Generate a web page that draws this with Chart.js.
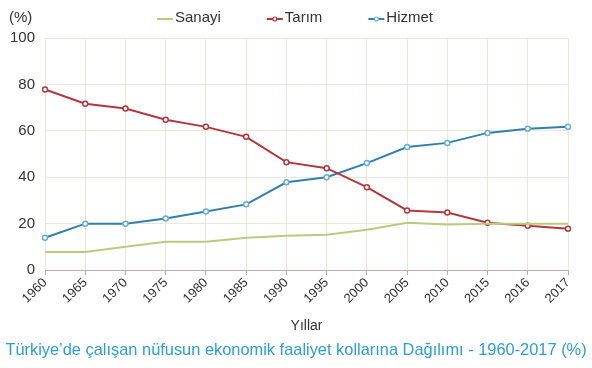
<!DOCTYPE html>
<html>
<head>
<meta charset="utf-8">
<script src="https://cdn.jsdelivr.net/npm/chart.js@4.4.0/dist/chart.umd.min.js"></script>
<style>
  body { margin: 0; background: #fff; }
  #wrap { width: 592px; height: 368px; }
</style>
</head>
<body>
<div id="wrap"><canvas id="Chart"></canvas></div>
<script>
var years = ['1960', '1965', '1970', '1975', '1980', '1985', '1990', '1995', '2000', '2005', '2010', '2015', '2016', '2017'];
var sanayi = [7.8, 7.8, 10, 12.2, 12.2, 13.9, 14.8, 15.2, 17.4, 20.4, 19.6, 20, 20, 20];
var tarim = [77.8, 71.7, 69.6, 64.8, 61.7, 57.4, 46.5, 43.9, 35.7, 25.7, 24.8, 20.4, 19.1, 17.8];
var hizmet = [13.9, 20, 20, 22.2, 25.2, 28.3, 37.8, 40, 46.1, 53, 54.8, 59.1, 60.9, 61.7];
var yTicks = [0, 20, 40, 60, 80, 100];

var FONT = '"Liberation Sans", Arial, sans-serif';
Chart.defaults.font.family = FONT;
Chart.defaults.color = '#333';

// legend on one row above the plot + "(%)" label
var topLabels = {
    id: 'topLabels',
    afterLayout: function(chart) {
        // center the bottom title on the whole canvas, not the padded box
        if (chart.titleBlock) {
            chart.titleBlock.left = 0;
            chart.titleBlock.right = chart.width;
            chart.titleBlock.width = chart.width;
        }
    },
    afterDraw: function(chart) {
        var c = chart.ctx;
        var y = chart.scales.y.top - 20;
        c.save();
        c.font = '15px ' + FONT;
        c.textBaseline = 'middle';
        c.fillStyle = '#333';
        c.fillText('(%)', 9, y);
        var sets = chart.data.datasets;
        var lineW = 16, gap = 2, space = 46;
        var total = 0;
        sets.forEach(function(ds, i) {
            total += lineW + gap + c.measureText(ds.label).width;
            if (i < sets.length - 1) total += space;
        });
        var x = 295 - total / 2;
        sets.forEach(function(ds) {
            c.strokeStyle = ds.borderColor;
            c.lineWidth = 2;
            c.beginPath();
            c.moveTo(x, y + 1);
            c.lineTo(x + lineW, y + 1);
            c.stroke();
            if (ds.pointRadius > 0) {
                c.fillStyle = '#fff';
                c.strokeStyle = ds.pointBorderColor;
                c.lineWidth = 1.2;
                c.beginPath();
                c.arc(x + lineW / 2, y + 1, 2, 0, Math.PI * 2);
                c.fill();
                c.stroke();
            }
            c.fillStyle = '#333';
            c.fillText(ds.label, x + lineW + gap, y);
            x += lineW + gap + c.measureText(ds.label).width + space;
        });
        c.restore();
    }
};

var ctx = document.getElementById('Chart').getContext('2d');
var myChart = new Chart(ctx, {
    type: 'line',
    data: {
        labels: years,
        datasets: [{
            label: 'Sanayi',
            data: sanayi,
            borderColor: '#b8cc80',
            backgroundColor: '#b8cc80',
            borderWidth: 2,
            pointRadius: 0
        }, {
            label: 'Tarım',
            data: tarim,
            borderColor: '#b2383e',
            backgroundColor: '#b2383e',
            borderWidth: 2,
            pointRadius: 2.5,
            pointBackgroundColor: '#fff',
            pointBorderColor: '#b2383e',
            pointBorderWidth: 1.5
        }, {
            label: 'Hizmet',
            data: hizmet,
            borderColor: '#317fae',
            backgroundColor: '#317fae',
            borderWidth: 2,
            pointRadius: 2.5,
            pointBackgroundColor: '#fff',
            pointBorderColor: '#6aaed6',
            pointBorderWidth: 1.5
        }]
    },
    options: {
        responsive: true,
        maintainAspectRatio: false,
        animation: false,
        layout: { padding: { left: 0, right: 24, top: 38, bottom: 8 } },
        plugins: {
            legend: { display: false },
            title: {
                display: true,
                position: 'bottom',
                text: 'Türkiye’de çalışan nüfusun ekonomik faaliyet kollarına Dağılımı - 1960-2017 (%)',
                color: '#2a9fd6',
                font: { size: 16.4, weight: 'normal' },
                padding: { top: 2, bottom: 0 }
            },
            tooltip: { enabled: false }
        },
        scales: {
            x: {
                offset: false,
                grid: { color: '#efe6da', tickLength: 5, tickColor: '#c9a8a8' },
                border: { color: '#c9a8a8' },
                ticks: { maxRotation: 45, minRotation: 45, font: { size: 13 }, color: '#333', padding: 0 },
                title: { display: true, text: 'Yıllar', font: { size: 14 }, color: '#333', padding: { top: 11, bottom: 4 } }
            },
            y: {
                min: 0,
                max: 100,
                afterBuildTicks: function(axis) {
                    axis.ticks = yTicks.map(function(v) { return { value: v }; });
                },
                grid: { color: '#efe6da', drawTicks: false },
                border: { display: false },
                ticks: { font: { size: 15 }, color: '#333', padding: 10 }
            }
        }
    },
    plugins: [topLabels]
});
</script>
</body>
</html>
